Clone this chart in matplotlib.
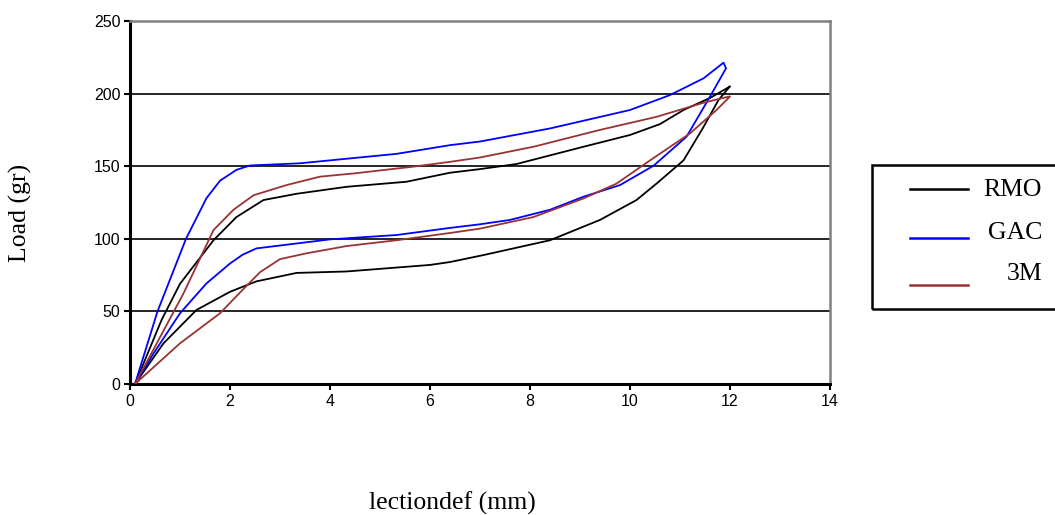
import matplotlib
matplotlib.use("Agg")
import matplotlib.pyplot as plt
from matplotlib.lines import Line2D
from matplotlib.patches import Rectangle

# loading branch then unloading branch
rmo_x = [0.1, 0.63, 1.0, 1.67, 2.13, 2.67, 3.33, 4.33, 5.53, 6.4, 7.0, 7.73, 9.07, 10.0, 10.6, 11.07, 11.6, 11.97, 12.0,
         11.77, 11.47, 11.07, 10.53, 10.13, 9.4, 8.4, 7.07, 6.4, 6.0, 4.33, 3.33, 2.53, 2.0, 1.33, 0.67, 0.1]
rmo_y = [0, 44, 69, 99, 115, 126.7, 131, 135.8, 139.3, 145.5, 148, 151.5, 163.4, 171.5, 179, 188.7, 197, 204.3, 205,
         195.6, 177, 154, 138, 126.7, 113, 99, 88.8, 84, 82, 77.5, 76.5, 70.7, 63.5, 51, 28, 0]

gac_x = [0.1, 0.55, 1.12, 1.53, 1.8, 2.13, 2.4, 3.4, 5.33, 6.4, 7.0, 8.4, 10.0, 10.8, 11.47, 11.87, 11.92,
         11.6, 11.13, 10.47, 9.8, 9.07, 8.4, 7.6, 7.0, 6.4, 5.33, 4.0, 2.53, 2.25, 2.0, 1.53, 1.0, 0.47, 0.1]
gac_y = [0, 50, 100, 128, 140, 147.5, 150.5, 152, 158.5, 164.5, 167, 176, 188.7, 199, 210.5, 221.3, 217.4,
         197.9, 170.3, 150.3, 137, 129, 120, 113, 110, 107.5, 102.6, 99.6, 93.4, 89, 83, 69.3, 48.7, 21, 0]

m3_x = [0.1, 1.07, 1.67, 2.07, 2.47, 3.13, 3.8, 4.47, 5.67, 6.4, 7.0, 8.07, 9.4, 10.53, 11.47, 11.97, 12.0,
        11.73, 11.2, 10.4, 9.73, 9.07, 8.07, 7.0, 6.4, 5.33, 4.33, 3.53, 3.0, 2.6, 2.2, 1.8, 1.0, 0.1]
m3_y = [0, 62.4, 106, 120, 130, 137, 142.8, 145, 149.7, 153, 156, 163.4, 175, 184, 193.7, 197.9, 198,
        188.7, 172.6, 154, 138, 127.8, 115, 107, 104, 99, 95, 90, 86, 77, 63, 48.7, 28, 0]

series = ["RMO", "GAC", "3M"]
colors = ["#000000", "#0000ff", "#993333"]
xticks = [0, 2, 4, 6, 8, 10, 12, 14]
yticks = [0, 50, 100, 150, 200, 250]

fig = plt.figure(figsize=(10.55, 5.15), dpi=100)
ax = fig.add_axes([130 / 1055, 1 - 384 / 515, 700 / 1055, 363 / 515])

for xs, ys, c in zip([rmo_x, gac_x, m3_x], [rmo_y, gac_y, m3_y], colors):
    ax.plot(xs, ys, color=c, lw=1.3, zorder=3, solid_joinstyle="round")

ax.set_xlim(0, 14)
ax.set_ylim(0, 250)
ax.set_xticks(xticks)
ax.set_yticks(yticks)
ax.yaxis.grid(True, color="black", lw=1.2)
ax.set_axisbelow(True)
for lab in ax.get_xticklabels() + ax.get_yticklabels():
    lab.set_fontfamily("Liberation Sans")
    lab.set_fontsize(11.5)
ax.tick_params(direction="out", length=4, width=1.5, pad=3)
ax.spines["left"].set_linewidth(2.2)
ax.spines["bottom"].set_linewidth(2.2)
ax.spines["top"].set_color("#808080")
ax.spines["right"].set_color("#808080")
ax.spines["top"].set_linewidth(1.8)
ax.spines["right"].set_linewidth(1.8)

fig.text(20 / 1055, 1 - 213 / 515, "Load (gr)", rotation=90, ha="center", va="center",
         family="Liberation Serif", fontsize=18.5)
fig.text(452 / 1055, 1 - 503 / 515, "lectiondef (mm)", ha="center", va="center",
         family="Liberation Serif", fontsize=18.5)

# legend box, drawn by hand so it runs off the right edge like the original
fig.patches.append(Rectangle((872 / 1055, 1 - 309 / 515), 200 / 1055, 144 / 515,
                             transform=fig.transFigure, fill=False, ec="black", lw=1.8))
line_y = [189, 238, 285]
text_y = [190, 233, 274]
for name, c, ly, ty in zip(series, colors, line_y, text_y):
    fig.lines.append(Line2D([910 / 1055, 968 / 1055], [1 - ly / 515, 1 - ly / 515],
                            transform=fig.transFigure, color=c, lw=1.8))
    fig.text(1042 / 1055, 1 - ty / 515, name, ha="right", va="center",
             family="Liberation Serif", fontsize=18.5)

fig.savefig("out.png", dpi=100, facecolor="white")
